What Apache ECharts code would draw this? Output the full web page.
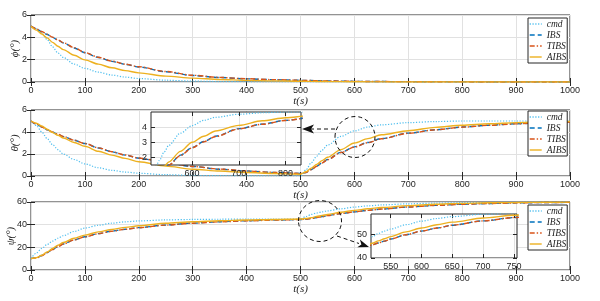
<!DOCTYPE html>
<html><head><meta charset="utf-8">
<script src="https://cdn.jsdelivr.net/npm/echarts@6/dist/echarts.min.js"></script>
<style>html,body{margin:0;padding:0;background:#fff}#c{width:600px;height:301px}</style>
</head><body><div id="c"></div>
<script>
// ---------- data ----------
const t = [0,10,20,30,40,50,60,80,100,125,150,175,200,250,300,350,400,450,500,510,520,530,540,550,575,600,625,650,700,750,800,850,900,950,1000];
const seriesNames = ['cmd','IBS','TIBS','AIBS'];

const phiCmd  = [5,4.75,4.35,3.8,3.15,2.6,2.2,1.6,1.22,0.88,0.62,0.44,0.31,0.16,0.08,0.04,0.02,0.01,0, 0,0,0,0,0,0,0,0,0,0,0,0,0,0,0,0];
const phiIBS  = [5,4.75,4.5,4.25,4.0,3.75,3.5,3.05,2.62,2.2,1.85,1.58,1.35,0.92,0.58,0.4,0.28,0.21,0.15, 0.14,0.13,0.12,0.11,0.1,0.08,0.06,0.05,0.04,0.03,0.02,0.01,0,0,0,0];
const phiTIBS = [5,4.76,4.52,4.27,4.02,3.77,3.52,3.07,2.64,2.22,1.87,1.6,1.37,0.94,0.6,0.41,0.29,0.21,0.15, 0.14,0.13,0.12,0.11,0.1,0.08,0.06,0.05,0.04,0.03,0.02,0.01,0,0,0,0];
const phiAIBS = [5,4.65,4.3,3.95,3.55,3.2,2.9,2.4,1.98,1.6,1.27,1.02,0.82,0.53,0.35,0.23,0.15,0.1,0.07, 0.06,0.055,0.05,0.045,0.04,0.03,0.02,0.015,0.01,0,0,0,0,0,0,0];

const thetaCmd  = [5,4.6,4.0,3.4,2.85,2.4,2.0,1.5,1.1,0.75,0.52,0.36,0.25,0.12,0.05,0.03,0.01,0,0, 0.55,1.2,1.8,2.35,2.8,3.6,4.1,4.45,4.65,4.85,4.95,5.0,5.0,5.0,5.0,5.0];
const thetaIBS  = [5,4.72,4.45,4.2,3.98,3.78,3.58,3.25,2.95,2.55,2.2,1.9,1.62,1.2,0.86,0.62,0.45,0.33,0.24, 0.32,0.58,0.9,1.2,1.5,2.15,2.65,3.05,3.4,3.9,4.2,4.45,4.62,4.75,4.85,4.92];
const thetaTIBS = [5,4.73,4.46,4.21,3.99,3.79,3.59,3.26,2.96,2.56,2.21,1.91,1.63,1.21,0.87,0.63,0.46,0.33,0.24, 0.32,0.57,0.88,1.18,1.48,2.13,2.63,3.03,3.38,3.88,4.19,4.44,4.61,4.74,4.84,4.91];
const thetaAIBS = [5,4.8,4.55,4.25,3.95,3.7,3.45,3.05,2.7,2.25,1.9,1.6,1.3,0.9,0.62,0.45,0.32,0.23,0.16, 0.38,0.72,1.06,1.4,1.7,2.4,3.0,3.4,3.75,4.12,4.42,4.62,4.75,4.85,4.92,4.97];

const psiCmd  = [10,15,19,22.5,25.5,28,30.3,34,37,39.5,41.3,42.5,43.3,44.2,44.6,44.8,45,45,45, 47.2,49,50.3,51.3,52.2,54,55.5,56.6,57.4,58.4,59,59.4,59.6,59.8,59.9,60];
const psiIBS  = [10,10.9,12.8,15.4,18.1,20.7,23,26.6,29.3,32.1,34.3,36,37.4,39.7,41.4,42.6,43.5,44.1,44.5, 44.8,45.5,46.3,47.1,48,49.8,51.3,52.6,53.8,55.6,57,58,58.7,59.2,59.5,59.7];
const psiTIBS = [10,10.7,12.6,15.3,18,20.6,22.9,26.5,29.2,32,34.2,35.9,37.3,39.6,41.3,42.5,43.4,44,44.5, 44.8,45.5,46.3,47.1,48,49.8,51.3,52.6,53.8,55.6,57,58,58.7,59.2,59.5,59.7];
const psiAIBS = [10,10.8,13,16,19,21.8,24.2,28,30.8,33.6,35.8,37.6,39,41.2,42.6,43.5,44.1,44.6,45, 45.4,46.2,47.2,48.1,49,51,52.6,54,55.1,56.8,58,58.8,59.3,59.6,59.8,59.9];

const insetThetaXTicks = [600,700,800];
const insetThetaYTicks = [2,3,4];
const insetPsiXTicks = [550,600,650,700,750];
const insetPsiYTicks = [40,50];

// ---------- styles ----------
const INK = '#262626', GRIDC = '#e1e1e1', FONT = 'Liberation Sans', SERIF = 'Liberation Serif';
const COL = {cmd:'#4DBEEE', IBS:'#0072BD', TIBS:'#D95319', AIBS:'#EDB120'};
const LS = {
  cmd:  {width:1.2, type:[1.2,1.6]},
  IBS:  {width:1.4, type:[5,3]},
  TIBS: {width:1.4, type:[5,2,1.4,2]},
  AIBS: {width:1.4, type:'solid'}
};

const gridBase = {show:true, borderColor:INK, borderWidth:1, containLabel:false, outerBoundsMode:'none'};
const grids = [
  Object.assign({left:31, top:15,  width:539, height:67}, gridBase),
  Object.assign({left:31, top:110, width:539, height:66}, gridBase),
  Object.assign({left:31, top:202, width:539, height:68}, gridBase),
  Object.assign({left:151, top:112, width:150, height:53, backgroundColor:'#fff', z:5}, gridBase),
  Object.assign({left:371, top:214, width:146, height:44, backgroundColor:'#fff', z:5}, gridBase)
];

const xAxis = [], yAxis = [];
function addAxes(gi, xo, yo, z) {
  const lbl = {color:INK, fontFamily:FONT, fontSize:9, formatter: v => String(v)};
  const mk = (isX, pos, main, o) => {
    const a = {gridIndex:gi, type:'value', position:pos, min:o.min, max:o.max, z:z,
      nameMoveOverlap:false,
      axisLine:{show:false}, axisTick:{show:true, inside:true, length:4, lineStyle:{color:INK}},
      axisLabel: main ? Object.assign({show:true, margin:4}, lbl) : {show:false},
      splitLine:{show: main, lineStyle:{color:GRIDC, width:1}}};
    if (o.interval) a.interval = o.interval;
    if (o.custom) { a.axisTick.customValues = o.custom; if (main) a.axisLabel.customValues = o.custom; }
    if (main && o.name) {
      a.name = o.name; a.nameLocation = 'middle'; a.nameGap = o.gap;
      if (!isX) a.nameRotate = 90;
      a.nameTextStyle = {fontFamily:SERIF, fontStyle:'italic', fontSize:11, color:INK};
    }
    return a;
  };
  xAxis.push(mk(true, 'bottom', true, xo), mk(true, 'top', false, xo));
  yAxis.push(mk(false, 'left', true, yo), mk(false, 'right', false, yo));
}
addAxes(0, {min:0, max:1000, interval:100, name:'t(s)', gap:14}, {min:0, max:6, interval:2, name:'ϕ(°)', gap:10}, 0);
addAxes(1, {min:0, max:1000, interval:100, name:'t(s)', gap:14}, {min:0, max:6, interval:2, name:'θ(°)', gap:10}, 0);
addAxes(2, {min:0, max:1000, interval:100, name:'t(s)', gap:14}, {min:0, max:60, interval:20, name:'ψ(°)', gap:14}, 0);
addAxes(3, {min:512, max:833, custom:insetThetaXTicks}, {min:1.5, max:5, custom:insetThetaYTicks}, 6);
addAxes(4, {min:518, max:755, custom:insetPsiXTicks}, {min:40, max:58.5, custom:insetPsiYTicks}, 6);

const series = [];
function addSeries(gi, arrs, z) {
  seriesNames.forEach((n, k) => {
    series.push({name:n, type:'line', xAxisIndex:2*gi, yAxisIndex:2*gi,
      data: t.map((v, i) => [v, arrs[k][i]]), symbol:'none', showSymbol:false,
      smooth:0.3, smoothMonotone:'x', clip:true, z:z, silent:true,
      lineStyle:Object.assign({color:COL[n]}, LS[n]), itemStyle:{color:COL[n]}});
  });
}
addSeries(0, [phiCmd, phiIBS, phiTIBS, phiAIBS], 2);
addSeries(1, [thetaCmd, thetaIBS, thetaTIBS, thetaAIBS], 2);
addSeries(2, [psiCmd, psiIBS, psiTIBS, psiAIBS], 2);
addSeries(3, [thetaCmd, thetaIBS, thetaTIBS, thetaAIBS], 7);
addSeries(4, [psiCmd, psiIBS, psiTIBS, psiAIBS], 7);

function legendAt(top) {
  return {show:true, orient:'vertical', left:528, top:top, data:seriesNames,
    itemWidth:12, itemHeight:8, itemGap:1, padding:[1,1,1,1],
    itemStyle:{opacity:0, borderWidth:0},
    lineStyle:{width:1.4},
    backgroundColor:'#fff', borderColor:INK, borderWidth:1, borderRadius:0,
    selectedMode:false, z:8,
    textStyle:{fontFamily:SERIF, fontStyle:'italic', fontSize:9.5, lineHeight:9.5, color:INK}};
}

const dash = {stroke:'#111', lineWidth:1, lineDash:[4,3], fill:null};
const graphic = [
  {type:'ellipse', shape:{cx:355, cy:137, rx:20, ry:20.5}, style:dash, z:20, silent:true},
  {type:'line', shape:{x1:335, y1:129, x2:311, y2:129}, style:dash, z:20, silent:true},
  {type:'polygon', shape:{points:[[302,129],[314,124.5],[311,129],[314,133.5]]}, style:{fill:'#111'}, z:20, silent:true},
  {type:'ellipse', shape:{cx:320, cy:221, rx:21.5, ry:20.5}, style:dash, z:20, silent:true},
  {type:'line', shape:{x1:337, y1:236, x2:359, y2:243.5}, style:dash, z:20, silent:true},
  {type:'polygon', shape:{points:[[369,247],[359.9,239.6],[361.4,244.4],[357.3,247.2]]}, style:{fill:'#111'}, z:20, silent:true}
];

const chart = echarts.init(document.getElementById('c'), null, {renderer:'canvas'});
chart.setOption({
  animation:false, backgroundColor:'#fff',
  grid:grids, xAxis:xAxis, yAxis:yAxis, series:series,
  legend:[legendAt(18), legendAt(111), legendAt(205)],
  graphic:graphic
});
</script></body></html>
